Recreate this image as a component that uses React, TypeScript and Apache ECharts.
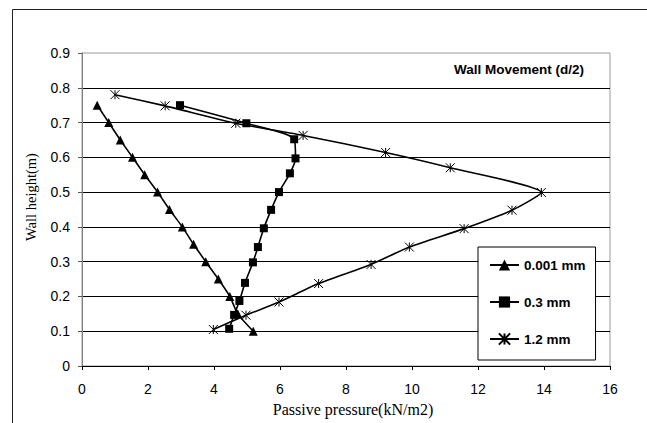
import React, { useEffect, useRef } from "react";
import * as echarts from "echarts";

const heights001 = [0.75, 0.7, 0.65, 0.6, 0.55, 0.5, 0.45, 0.4, 0.35, 0.3, 0.25, 0.2, 0.15, 0.1];
const pressure001 = [0.46, 0.81, 1.16, 1.53, 1.9, 2.29, 2.65, 3.04, 3.38, 3.75, 4.13, 4.48, 4.72, 5.19];

const heights03 = [0.75, 0.698, 0.652, 0.597, 0.554, 0.5, 0.449, 0.396, 0.342, 0.298, 0.239, 0.187, 0.147, 0.107];
const pressure03 = [2.97, 4.98, 6.43, 6.47, 6.3, 5.97, 5.73, 5.51, 5.33, 5.18, 4.94, 4.77, 4.61, 4.46];

const heights12 = [0.78, 0.748, 0.698, 0.663, 0.614, 0.57, 0.499, 0.448, 0.395, 0.342, 0.292, 0.237, 0.184, 0.146, 0.105];
const pressure12 = [1.0, 2.52, 4.66, 6.7, 9.2, 11.16, 13.92, 13.03, 11.58, 9.92, 8.76, 7.17, 5.97, 4.97, 3.98];

const seriesNames = ["0.001 mm", "0.3 mm", "1.2 mm"];
const xTicks = { min: 0, max: 16, interval: 2 };
const yTicks = { min: 0, max: 0.9, interval: 0.1 };

const titleText = "Wall Movement (d/2)";
const xName = "Passive pressure(kN/m2)";
const yName = "Wall height(m)";

const asterisk = "path://M0,0L10,10M10,0L0,10M5,0L5,10";

const pair = (xs: number[], ys: number[]) => xs.map((x, i) => [x, ys[i]]);

export default function App() {
  const ref = useRef<HTMLDivElement>(null);
  useEffect(() => {
    document.body.style.margin = "0";
    const chart = echarts.init(ref.current!, null, { renderer: "svg" });
    const sans = "'Liberation Sans', Arial, sans-serif";
    const serif = "'Liberation Serif', 'Times New Roman', serif";
    const lineBase = { color: "#000", width: 1.6 };
    chart.setOption({
      animation: false,
      backgroundColor: "#fff",
      title: {
        text: titleText,
        right: 63,
        top: 62,
        padding: 0,
        textStyle: { fontFamily: sans, fontSize: 13.5, fontWeight: "bold", color: "#000" },
      },
      legend: {
        orient: "vertical",
        left: 478,
        top: 247,
        padding: [11, 10, 14, 11],
        itemWidth: 29,
        itemHeight: 14,
        itemGap: 23,
        borderColor: "#000",
        borderWidth: 1,
        backgroundColor: "#fff",
        textStyle: { fontFamily: sans, fontSize: 13.5, fontWeight: "bold", color: "#000" },
        data: seriesNames,
      },
      grid: {
        left: 82,
        right: 37,
        top: 53,
        bottom: 57,
        show: true,
        borderColor: "#9a9a9a",
        borderWidth: 1,
      },
      xAxis: {
        type: "value",
        min: xTicks.min,
        max: xTicks.max,
        interval: xTicks.interval,
        axisLine: { show: true, lineStyle: { color: "#000", width: 1 } },
        axisTick: { show: true, inside: false, length: 4, lineStyle: { color: "#000" } },
        axisLabel: { fontFamily: sans, fontSize: 14, color: "#000", margin: 16 },
        splitLine: { show: false },
      },
      yAxis: {
        type: "value",
        min: yTicks.min,
        max: yTicks.max,
        interval: yTicks.interval,
        axisLine: { show: true, lineStyle: { color: "#808080", width: 1 } },
        axisTick: { show: true, inside: false, length: 4, lineStyle: { color: "#555" } },
        axisLabel: {
          fontFamily: sans,
          fontSize: 14,
          color: "#000",
          margin: 12,
          formatter: (v: number) => (v === 0 ? "0" : v.toFixed(1)),
        },
        splitLine: {
          show: true,
          showMinLine: false,
          showMaxLine: false,
          lineStyle: { color: "#000", width: 1 },
        },
      },
      series: [
        {
          name: seriesNames[0],
          type: "line",
          data: pair(pressure001, heights001),
          symbol: "triangle",
          symbolSize: 9,
          smooth: 0.2,
          lineStyle: lineBase,
          itemStyle: { color: "#000" },
        },
        {
          name: seriesNames[1],
          type: "line",
          data: pair(pressure03, heights03),
          symbol: "rect",
          symbolSize: 8,
          smooth: 0.25,
          lineStyle: lineBase,
          itemStyle: { color: "#000" },
        },
        {
          name: seriesNames[2],
          type: "line",
          data: pair(pressure12, heights12),
          symbol: asterisk,
          symbolSize: 9,
          smooth: 0.2,
          lineStyle: lineBase,
          itemStyle: { color: "#fff", borderColor: "#000", borderWidth: 1 },
        },
      ],
      graphic: [
        {
          type: "line",
          shape: { x1: 12.5, y1: 9.5, x2: 647, y2: 9.5 },
          style: { stroke: "#222", lineWidth: 1 },
        },
        {
          type: "line",
          shape: { x1: 12.5, y1: 9.5, x2: 12.5, y2: 423 },
          style: { stroke: "#222", lineWidth: 1 },
        },
        {
          type: "text",
          x: 31,
          y: 197,
          rotation: Math.PI / 2,
          style: {
            text: yName,
            font: `14.5px ${serif}`,
            fill: "#000",
            textAlign: "center",
            textVerticalAlign: "middle",
          },
        },
        {
          type: "text",
          x: 353,
          y: 409,
          style: {
            text: xName,
            font: `16px ${serif}`,
            fill: "#000",
            textAlign: "center",
            textVerticalAlign: "middle",
          },
        },
      ],
    });
    return () => chart.dispose();
  }, []);
  return (
    <div
      ref={ref}
      style={{ position: "absolute", left: 0, top: 0, width: 647, height: 423 }}
    />
  );
}
